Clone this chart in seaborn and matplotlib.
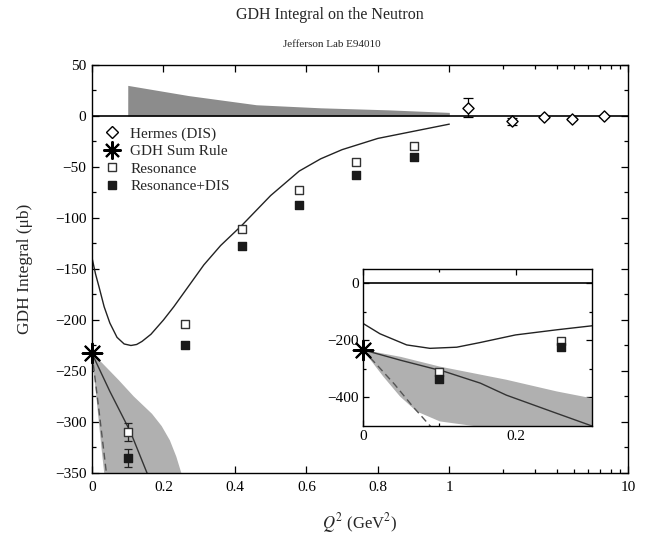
import numpy as np
import pandas as pd
import matplotlib
matplotlib.use("Agg")
import matplotlib.pyplot as plt
from matplotlib.lines import Line2D
import seaborn as sns

# ---------------- data ----------------
hermes_q2 = [1.28, 2.23, 3.39, 4.89, 7.35]
hermes_val = [8.2, -5.2, -1.0, -2.6, 0.0]
hermes_err = [9.0, 3.7, 1.0, 1.0, 1.0]

gdh_q2 = [0.0]
gdh_val = [-232.8]

res_q2 = [0.10, 0.26, 0.42, 0.58, 0.74, 0.90]
res_val = [-310, -204, -111, -73, -45, -29]
res_err = [9, 2, 1.5, 1.5, 1.5, 1.5]
resdis_val = [-335, -225, -127, -87, -58, -40]
resdis_err = [9, 2, 1.5, 1.5, 1.5, 1.5]

# model curve (main panel)
model_q2 = [0.0, 0.01, 0.02, 0.034, 0.05, 0.07, 0.09, 0.109, 0.125, 0.14, 0.165, 0.2, 0.229,
            0.27, 0.313, 0.36, 0.42, 0.5, 0.58, 0.64, 0.7, 0.8, 0.9, 1.0]
model_val = [-139, -155, -168, -187, -203, -217, -223.5, -225, -224, -221, -214, -200, -187,
             -167, -146, -127, -107, -78, -54, -42, -33, -22, -15, -8]

# DIS contribution band (top)
dis_q2 = [0.1, 0.1001, 0.27, 0.46, 0.64, 0.83, 1.0]
dis_val = [0.0, 30, 20, 11, 8, 6, 3.5]

# chiral perturbation theory band / lines
band_up_q2 = [0.0, 0.028, 0.075, 0.117, 0.168, 0.195, 0.218, 0.236, 0.25, 0.265]
band_up_val = [-232.8, -242, -259, -275, -292, -304, -318, -334, -350, -380]
band_lo_q2 = [0.0, 0.027, 0.049, 0.0706, 0.101, 0.145, 0.2, 0.3]
band_lo_val = [-232.8, -327, -397, -449, -484, -500, -530, -560]
cpt_q2 = [0.0, 0.05, 0.108, 0.154, 0.188, 0.25, 0.3]
cpt_val = [-232.8, -270, -310, -350, -392, -452, -500]
cpt2_q2 = [0.0, 0.02, 0.042, 0.065, 0.09]
cpt2_val = [-232.8, -290, -355, -430, -505]

# inset versions
inset_model_q2 = [0.0, 0.0226, 0.0575, 0.088, 0.123, 0.153, 0.2, 0.254, 0.3]
inset_model_val = [-140, -177, -216, -228, -224, -208, -181, -163, -149]
inset_band_up_q2 = [0.0, 0.05, 0.101, 0.188, 0.254, 0.3]
inset_band_up_val = [-232.8, -258, -292, -338, -379, -403]

xticks = [0, 0.2, 0.4, 0.6, 0.8, 1, 10]
xticklabels = ["0", "0.2", "0.4", "0.6", "0.8", "1", "10"]
yticks = [50, 0, -50, -100, -150, -200, -250, -300, -350]

# ---------------- style ----------------
sns.set_theme(style="ticks")
plt.rcParams["font.family"] = ["Liberation Serif", "DejaVu Serif"]
plt.rcParams["mathtext.fontset"] = "stix"
plt.rcParams["axes.unicode_minus"] = True
for k in ("xtick", "ytick"):
    plt.rcParams[f"{k}.direction"] = "in"
    plt.rcParams[f"{k}.color"] = "black"
    plt.rcParams[f"{k}.labelcolor"] = "black"

def fwd(x):
    x = np.asarray(x, float)
    with np.errstate(divide="ignore", invalid="ignore"):
        return np.where(x <= 1, x, 1 + 0.5 * np.log10(np.where(x > 1, x, 1)))

def inv(y):
    y = np.asarray(y, float)
    return np.where(y <= 1, y, 10 ** (2 * (np.where(y > 1, y, 1) - 1)))

fig = plt.figure(figsize=(6.58, 5.41), dpi=100)
ax = fig.add_axes([0.1398, 0.1257, 0.8146, 0.7542])

band_gray = "#b0b0b0"
dis_gray = "#8c8c8c"

def draw_common(a, model_x, model_y, up_x, up_y, ms_sq):
    poly_x = list(up_x) + list(band_lo_q2[::-1])
    poly_y = list(up_y) + list(band_lo_val[::-1])
    a.fill(poly_x, poly_y, color=band_gray, lw=0, zorder=1)
    sns.lineplot(x=cpt_q2, y=cpt_val, ax=a, color="#333333", lw=1.0, sort=False, zorder=2)
    sns.lineplot(x=cpt2_q2, y=cpt2_val, ax=a, color="#555555", lw=1.0, sort=False,
                 linestyle=(0, (5, 3)), zorder=2)
    sns.lineplot(x=model_x, y=model_y, ax=a, color="#222222", lw=1.0, sort=False, zorder=2)
    a.axhline(0, color="black", lw=1.2, zorder=2)
    a.errorbar(res_q2, res_val, yerr=res_err, fmt="none", ecolor="#222222",
               elinewidth=0.9, capsize=3.2, capthick=0.9, zorder=3)
    a.errorbar(res_q2, resdis_val, yerr=resdis_err, fmt="none", ecolor="#222222",
               elinewidth=0.9, capsize=3.2, capthick=0.9, zorder=3)
    sns.scatterplot(x=res_q2, y=res_val, ax=a, marker="s", s=ms_sq, color="white",
                    edgecolor="#333333", linewidth=1.0, zorder=4)
    sns.scatterplot(x=res_q2, y=resdis_val, ax=a, marker="s", s=ms_sq, color="#1a1a1a",
                    edgecolor="#1a1a1a", linewidth=1.0, zorder=4)
    sns.scatterplot(x=gdh_q2, y=gdh_val, ax=a, marker=(8, 2, 0), s=200,
                    color="black", linewidth=1.5, zorder=6)
    a.collections[-1].set_clip_on(False)

# main panel
ax.fill_between(dis_q2, 0, dis_val, color=dis_gray, lw=0, zorder=1)
draw_common(ax, model_q2, model_val, band_up_q2, band_up_val, 40)
ax.errorbar(hermes_q2, hermes_val, yerr=hermes_err, fmt="none", ecolor="black",
            elinewidth=0.9, capsize=3.5, capthick=0.9, zorder=3)
sns.scatterplot(x=hermes_q2, y=hermes_val, ax=ax, marker="D", s=32, color="white",
                edgecolor="black", linewidth=1.0, zorder=5)

ax.set_xscale("function", functions=(fwd, inv))
ax.set_xlim(0, 10)
ax.set_ylim(-350, 50)
ax.set_xticks(xticks)
ax.set_xticklabels(xticklabels)
ax.set_xticks([2, 3, 4, 5, 6, 7, 8, 9], minor=True)
ax.set_yticks(yticks)
ax.set_yticks(np.arange(-325, 50, 50), minor=True)
ax.tick_params(which="both", top=True, right=True, labelsize=11, width=0.9)
ax.tick_params(axis="x", pad=6)
ax.tick_params(axis="y", pad=4)
ax.tick_params(which="major", length=5)
ax.tick_params(which="minor", length=3)
for s in ax.spines.values():
    s.set_linewidth(1.0)
    s.set_color("black")
ax.set_xlabel("$Q^2$ (GeV$^2$)", fontsize=12, labelpad=12)
ax.set_ylabel("GDH Integral (μb)", fontsize=12.5, labelpad=16)

handles = [
    Line2D([], [], ls="none", marker="D", ms=6, mfc="white", mec="black", mew=1.0),
    Line2D([], [], ls="none", marker=(8, 2, 0), ms=13, color="black", mew=1.5),
    Line2D([], [], ls="none", marker="s", ms=5.5, mfc="white", mec="#333333", mew=1.0),
    Line2D([], [], ls="none", marker="s", ms=5.5, mfc="#1a1a1a", mec="#1a1a1a", mew=1.0),
]
labels = ["Hermes (DIS)", "GDH Sum Rule", "Resonance", "Resonance+DIS"]
ax.legend(handles, labels, loc="upper left", bbox_to_anchor=(0.0, 0.875), frameon=False,
          fontsize=11, handlelength=1.2, handletextpad=0.6, labelspacing=0.25,
          borderaxespad=0.3)

# inset
axi = fig.add_axes([0.5512, 0.2126, 0.3485, 0.2902])
draw_common(axi, inset_model_q2, inset_model_val, inset_band_up_q2, inset_band_up_val, 40)
axi.set_xlim(0, 0.3)
axi.set_ylim(-500, 50)
axi.set_xticks([0, 0.2])
axi.set_xticklabels(["0", "0.2"])
axi.set_xticks([0.1], minor=True)
axi.set_yticks([0, -200, -400])
axi.set_yticks([-100, -300], minor=True)
axi.tick_params(which="both", top=True, right=True, labelsize=11, width=0.9, pad=3)
axi.tick_params(which="major", length=4)
axi.tick_params(which="minor", length=2.5)
for s in axi.spines.values():
    s.set_linewidth(1.0)
    s.set_color("black")
axi.set_xlabel("")
axi.set_ylabel("")

fig.text(0.502, 0.972, "GDH Integral on the Neutron", ha="center", va="center", fontsize=11.5)
fig.text(0.505, 0.917, "Jefferson Lab E94010", ha="center", va="center", fontsize=8)

fig.savefig("out.png", dpi=100)
